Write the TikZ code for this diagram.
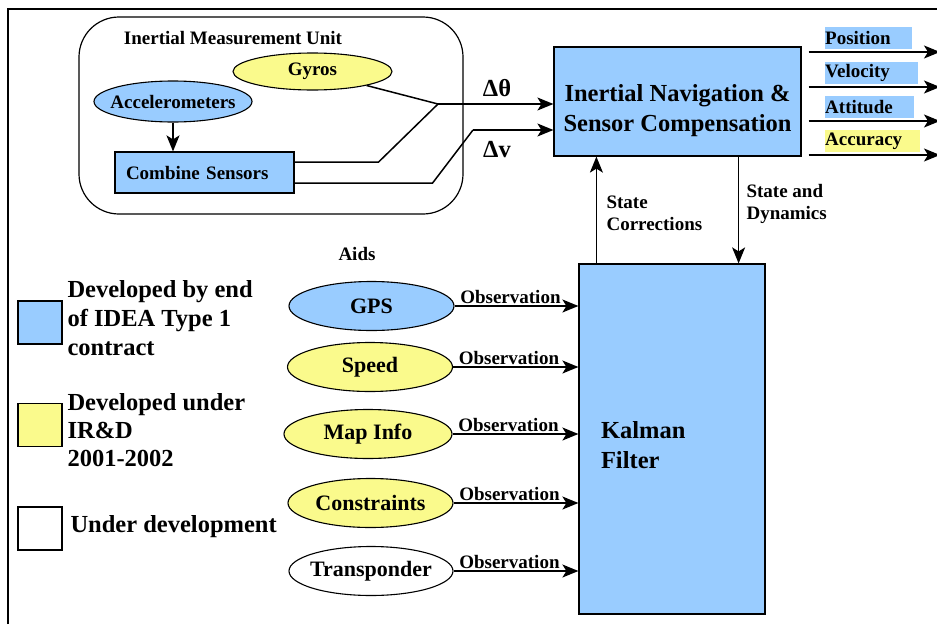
\documentclass[tikz,border=0pt]{standalone}
\usepackage{fontspec}
\setmainfont{Liberation Serif}
\usetikzlibrary{shapes.geometric,arrows.meta}
\definecolor{devblue}{RGB}{153,204,255}
\definecolor{irdyellow}{RGB}{250,250,140}
\newcommand{\zw}[1]{\makebox[0pt]{#1}}

\begin{document}
\begin{tikzpicture}[x=1pt, y=-1pt,
        big/.style={font=\fontsize{24.5}{30}\selectfont\bfseries},
        small/.style={font=\fontsize{19}{22}\selectfont\bfseries},
        aidfont/.style={font=\fontsize{22}{26}\selectfont\bfseries},
        box/.style={draw, line width=1.2pt, inner sep=0pt},
        oval/.style={draw, ellipse, line width=1.1pt, inner sep=0pt},
        aid/.style={oval, aidfont, minimum width=165pt, minimum height=49pt},
        tag/.style={small, anchor=south west, inner sep=0pt, minimum height=22pt, align=left},
        key/.style={box, minimum width=44pt, minimum height=43pt},
        wire/.style={line width=1.5pt},
        arr/.style={line width=1.5pt, -{Stealth[length=16pt, width=13pt, inset=4pt]}}]
        \useasboundingbox (0,0) rectangle (937,624);
        \draw[line width=1.5pt] (8,624) -- (8,9) -- (937,9);
        \node [box, rounded corners=40pt, minimum width=384pt, minimum height=197pt] (imu) at (271,115.5) {};
        \node [small] (imutitle) at (233,38) {Inertial Measurement Unit};
        \node [oval, small, fill=irdyellow, minimum width=159pt, minimum height=37pt] (gyros) at (312.5,71.5) {\zw{Gyros}};
        \node [oval, small, fill=devblue, minimum width=158pt, minimum height=41pt] (accel) at (173,101.5) {\zw{Accelerometers}};
        \node [box, small, fill=devblue, text width=157pt, inner xsep=11pt, minimum height=41pt, align=left] (combine) at (204.5,172.5) {Combine Sensors};
        \draw [arr] (accel.south) -- (accel.south |- combine.north);
        \node [box, big, fill=devblue, minimum width=247pt, minimum height=109pt, align=center] (ins) at (677.5,101.5) {\rule{0pt}{35pt}Inertial Navigation \&\\Sensor Compensation};
        \coordinate (jct) at (438,104);
        \coordinate (bend) at (473,130);
        \draw [wire] (gyros) -- (jct);
        \draw [wire] ([yshift=10.5pt]combine.east) -- ++(84,0) -- (jct);
        \draw [arr] (jct) -- (jct -| ins.west);
        \draw [wire] ([yshift=-10.5pt]combine.east) -- ++(138,0) -- (bend);
        \draw [arr] (bend) -- (bend -| ins.west);
        \node [big] (dtheta) at (497,88) {Δθ};
        \node [big] (dvel) at (497,150) {Δv};
        \foreach \y/\name in {52/position, 87/velocity, 121/attitude, 155/accuracy}
        {
                \coordinate (end-\name) at (940,\y);
                \draw [arr] ([xshift=7pt]ins.east |- end-\name) -- (end-\name);
        }
        \node [tag, fill=devblue, text width=87pt] (position) at (825,49.5) {Position};
        \node [tag, fill=devblue, text width=93pt] (velocity) at (825,84.5) {Velocity};
        \node [tag, fill=devblue, text width=89pt] (attitude) at (825,118.5) {Attitude};
        \node [tag, fill=irdyellow, text width=95pt] (accuracy) at (825,152.5) {Accuracy};
        \node [box, big, fill=devblue, text width=142pt, inner xsep=22pt, minimum height=350pt, align=left] (kalman) at (672,439) {\rule{0pt}{30pt}Kalman\\Filter};
        \draw [arr] ([xshift=18pt]kalman.north west) -- ([xshift=18pt]kalman.north west |- ins.south);
        \draw [arr] ([xshift=-27pt]kalman.north east |- ins.south) -- ([xshift=-27pt]kalman.north east);
        \node [small, anchor=west, align=left] (corr) at (603,213) {State\\Corrections};
        \node [small, anchor=west, align=left] (dyn) at (743,204) {State and\\Dynamics};
        \node [small] (aids) at (357,254) {Aids};
        \node [aid, fill=devblue] (gps) at (371.5,306) {\zw{GPS}};
        \node [aid, fill=irdyellow] (speed) at (370,367) {\zw{Speed}};
        \node [aid, fill=irdyellow, minimum width=168pt] (map) at (368,434) {\zw{Map Info}};
        \node [aid, fill=irdyellow] (constr) at (370.5,503) {\zw{Constraints}};
        \node [aid, fill=white, minimum width=164pt] (transp) at (371,571) {\zw{Transponder}};
        \foreach \aid in {gps, speed, map, constr, transp}
                \draw [arr] (\aid.east) -- (\aid.east -| kalman.west) node [small, pos=0, anchor=south west, inner sep=2pt, xshift=3pt] {Observation};
        \node [key, fill=devblue] (keydev) at (40,322.5) {};
        \node [key, fill=irdyellow] (keyird) at (40,425) {};
        \node [key, fill=white] (keynew) at (40,528.5) {};
        \node [big, anchor=west, align=left, font=\fontsize{24.5}{29}\selectfont\bfseries] (keydevtxt) at (64,318) {Developed by end\\of IDEA Type 1\\contract};
        \node [big, anchor=west, align=left, font=\fontsize{24.5}{28}\selectfont\bfseries] (keyirdtxt) at (64,430) {Developed under\\IR\&D\\2001-2002};
        \node [big, anchor=west] (keynewtxt) at (67,527) {Under development};
\end{tikzpicture}
\end{document}
